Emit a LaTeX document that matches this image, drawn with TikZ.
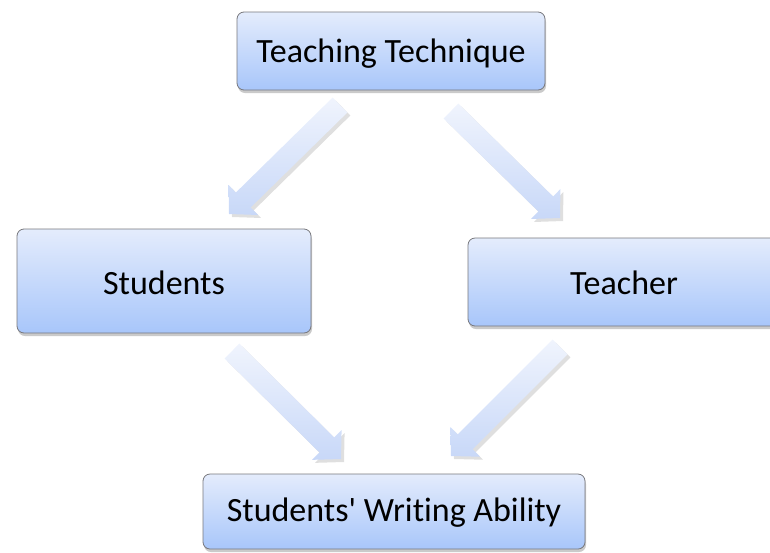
\documentclass[tikz,border=0pt]{standalone}
\usepackage{fontspec}
\setmainfont{Carlito}[Ligatures={NoCommon}]
\usetikzlibrary{calc,shadows}
\definecolor{boxtop}{RGB}{228,236,252}
\definecolor{boxbot}{RGB}{168,198,250}
\definecolor{boxline}{RGB}{120,120,125}
\definecolor{arrtop}{RGB}{240,244,253}
\definecolor{arrbot}{RGB}{200,216,248}
\newcommand\lowtext[2]{\raisebox{-#1}[\height][\depth]{#2}}
\tikzset{
  box/.style={draw=boxline, line width=0.8pt, rounded corners=7pt,
    top color=boxtop, bottom color=boxbot,
    drop shadow={shadow xshift=1pt, shadow yshift=-3pt, opacity=0.35, fill=black!60},
    font=\fontsize{34}{40}\selectfont, inner sep=0pt, align=center},
  blockarrow/.style={top color=arrtop, bottom color=arrbot, draw=none,
    drop shadow={shadow xshift=3pt, shadow yshift=-3pt, opacity=0.25, fill=black!50}}
}
\newcommand\blockarr[2]{%
  \coordinate (neck) at ($(#2)!20pt!(#1)$);
  \path[blockarrow] ($(#1)!10.5pt!90:(#2)$) -- ($(neck)!10.5pt!-90:(#1)$)
    -- ($(neck)!21pt!-90:(#1)$) -- (#2) -- ($(neck)!21pt!90:(#1)$)
    -- ($(neck)!10.5pt!90:(#1)$) -- ($(#1)!10.5pt!-90:(#2)$) -- cycle;}
\begin{document}
\begin{tikzpicture}[x=1pt,y=-1pt]
\useasboundingbox (0,0) rectangle (770,552);
\node[box, minimum width=308pt, minimum height=78pt] (tt) at (391,51) {\lowtext{3pt}{Teaching Technique}};
\node[box, minimum width=294pt, minimum height=104pt] (st) at (164,281) {\lowtext{2pt}{Students}};
\node[box, minimum width=312pt, minimum height=88pt] (te) at (624,282) {\lowtext{1pt}{Teacher}};
\node[box, minimum width=382pt, minimum height=75pt] (wa) at (394,511.5) {\lowtext{1pt}{Students\textquotesingle\ Writing Ability}};
\coordinate (a1s) at (340,105);
\coordinate (a1e) at (229,214);
\coordinate (a2s) at (451,111);
\coordinate (a2e) at (560,218);
\coordinate (a3s) at (232,351);
\coordinate (a3e) at (341,459);
\coordinate (a4s) at (560,347);
\coordinate (a4e) at (451,456);
\blockarr{a1s}{a1e}
\blockarr{a2s}{a2e}
\blockarr{a3s}{a3e}
\blockarr{a4s}{a4e}
\end{tikzpicture}
\end{document}
